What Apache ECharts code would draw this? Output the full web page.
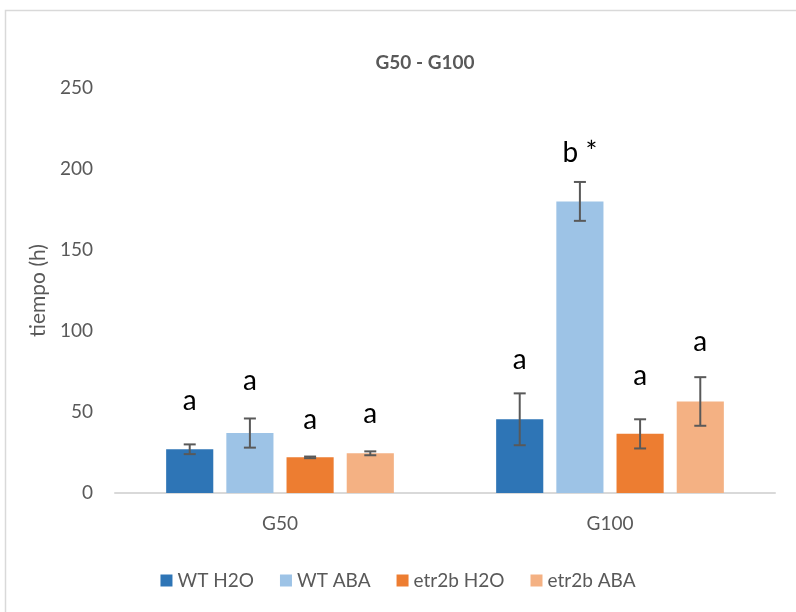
<!DOCTYPE html>
<html>
<head>
<meta charset="utf-8">
<title>G50 - G100</title>
<script src="https://cdn.jsdelivr.net/npm/echarts@6/dist/echarts.min.js"></script>
<style>
  html, body { margin: 0; padding: 0; background: #fff; }
  #chart { width: 796px; height: 612px; }
</style>
</head>
<body>
<div id="chart"></div>
<script>
//--------------------------------------------------------------------------
// データ定義
//--------------------------------------------------------------------------
const categories = ['G50', 'G100']
const seriesNames = ['WT H2O', 'WT ABA', 'etr2b H2O', 'etr2b ABA']
const seriesColors = ['#2E75B6', '#9DC3E6', '#ED7D31', '#F4B183']
const yTicks = { min: 0, max: 250, interval: 50 }

// 平均値
const wtH2O = [27, 45.5]
const wtABA = [37, 180]
const etr2bH2O = [22, 36.5]
const etr2bABA = [24.5, 56.5]

// 誤差 (±)
const wtH2OErr = [3, 16]
const wtABAErr = [9, 12]
const etr2bH2OErr = [0.5, 9]
const etr2bABAErr = [1.2, 15]

// 有意差の文字とその高さ (y値)
const wtH2OSig = ['a', 'a']
const wtABASig = ['a', 'b *']
const etr2bH2OSig = ['a', 'a']
const etr2bABASig = ['a', 'a']
const wtH2OSigY = [57, 82]
const wtABASigY = [69, 210]
const etr2bH2OSigY = [45, 72]
const etr2bABASigY = [49, 93]

const values = [wtH2O, wtABA, etr2bH2O, etr2bABA]
const errors = [wtH2OErr, wtABAErr, etr2bH2OErr, etr2bABAErr]
const sigs = [wtH2OSig, wtABASig, etr2bH2OSig, etr2bABASig]
const sigY = [wtH2OSigY, wtABASigY, etr2bH2OSigY, etr2bABASigY]

//--------------------------------------------------------------------------
// レイアウト
//--------------------------------------------------------------------------
const FONT = 'Lato, "Open Sans", sans-serif'
const TEXT_COLOR = '#595959'
const BAR_CAT_GAP = 0.31
const BAR_GAP = 0.277

// 棒の中心 x を計算 (ECharts の棒配置と同じ式)
function barCenter(api, idx, cat, val) {
  const p = api.coord([cat, val])
  const bw = api.size([1, 0])[0]
  const groupW = bw * (1 - BAR_CAT_GAP)
  const n = seriesNames.length
  const barW = groupW / (n + (n - 1) * BAR_GAP)
  return p[0] - groupW / 2 + barW / 2 + idx * barW * (1 + BAR_GAP)
}

const barSeries = seriesNames.map((name, i) => ({
  name: name,
  type: 'bar',
  data: values[i],
  barCategoryGap: (BAR_CAT_GAP * 100) + '%',
  barGap: (BAR_GAP * 100) + '%',
  itemStyle: { color: seriesColors[i] },
  emphasis: { disabled: true }
}))

const errorSeries = seriesNames.map((name, i) => ({
  type: 'custom',
  z: 5,
  silent: true,
  data: values[i].map((v, c) => [c, v, errors[i][c]]),
  renderItem: function (params, api) {
    const c = api.value(0)
    const v = api.value(1)
    const e = api.value(2)
    const x = barCenter(api, i, c, v)
    const yTop = api.coord([c, v + e])[1]
    const yBot = api.coord([c, v - e])[1]
    const cap = 6
    const style = { stroke: '#595959', lineWidth: 2 }
    return {
      type: 'group',
      children: [
        { type: 'line', shape: { x1: x, y1: yTop, x2: x, y2: yBot }, style: style },
        { type: 'line', shape: { x1: x - cap, y1: yTop, x2: x + cap, y2: yTop }, style: style },
        { type: 'line', shape: { x1: x - cap, y1: yBot, x2: x + cap, y2: yBot }, style: style }
      ]
    }
  }
}))

const sigSeries = seriesNames.map((name, i) => ({
  type: 'custom',
  z: 6,
  silent: true,
  data: sigY[i].map((y, c) => [c, y, values[i][c]]),
  renderItem: function (params, api) {
    const c = api.value(0)
    const y = api.coord([c, api.value(1)])[1]
    const x = barCenter(api, i, c, api.value(2))
    return {
      type: 'text',
      style: {
        x: x,
        y: y,
        text: sigs[i][params.dataIndex],
        fill: '#000',
        font: '28px ' + FONT,
        align: 'center',
        verticalAlign: 'middle'
      }
    }
  }
}))

const chart = echarts.init(document.getElementById('chart'))
chart.setOption({
  animation: false,
  backgroundColor: '#fff',
  title: {
    text: 'G50 - G100',
    left: 420,
    top: 48,
    textAlign: 'center',
    textStyle: { fontFamily: FONT, fontSize: 19, fontWeight: 'bold', color: TEXT_COLOR }
  },
  graphic: [
    {
      type: 'rect',
      shape: { x: 5.5, y: 10.5, width: 900, height: 800 },
      style: { fill: 'none', stroke: '#d9d9d9', lineWidth: 1.5 },
      silent: true
    }
  ],
  legend: {
    data: seriesNames,
    top: 566,
    left: 'center',
    icon: 'rect',
    itemWidth: 12,
    itemHeight: 12,
    itemGap: 26,
    textStyle: { fontFamily: FONT, fontSize: 19, color: TEXT_COLOR }
  },
  grid: { left: 115, right: 21, top: 88, bottom: 119 },
  xAxis: {
    type: 'category',
    data: categories,
    axisLine: { lineStyle: { color: '#d9d9d9', width: 2 } },
    axisTick: { show: false },
    axisLabel: { fontFamily: FONT, fontSize: 19, color: TEXT_COLOR, margin: 21 }
  },
  yAxis: {
    type: 'value',
    min: yTicks.min,
    max: yTicks.max,
    interval: yTicks.interval,
    name: 'tiempo (h)',
    nameLocation: 'middle',
    nameGap: 58,
    nameTextStyle: { fontFamily: FONT, fontSize: 21, color: TEXT_COLOR },
    axisLine: { show: false },
    axisTick: { show: false },
    splitLine: { show: false },
    axisLabel: { fontFamily: FONT, fontSize: 19, color: TEXT_COLOR, margin: 22 }
  },
  series: [...barSeries, ...errorSeries, ...sigSeries]
})
</script>
</body>
</html>
